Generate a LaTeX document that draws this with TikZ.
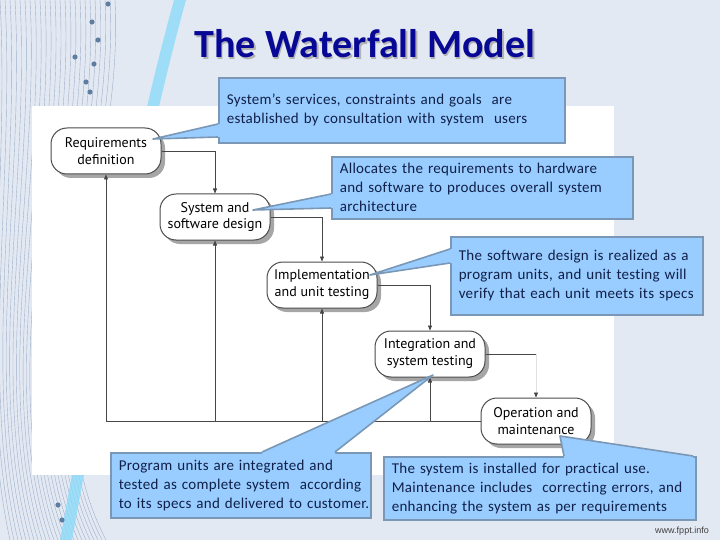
\documentclass[tikz,border=0pt]{standalone}
\usepackage{fontspec}
\setmainfont{Carlito}
\newfontfamily\phasefont{PT Sans}
\newfontfamily\notefont[LetterSpace=2,Ligatures=NoCommon]{Carlito}
\newfontfamily\webfont{Liberation Sans}
\usetikzlibrary{arrows.meta,shadows}

\definecolor{slidebg}{RGB}{227,233,243}
\definecolor{swirlclr}{RGB}{160,176,200}
\definecolor{dotclr}{RGB}{95,125,160}
\definecolor{noteblue}{RGB}{153,204,255}
\definecolor{noteedge}{RGB}{122,152,182}
\definecolor{notetext}{RGB}{16,32,72}
\definecolor{titleblue}{RGB}{8,8,150}
\definecolor{lineclr}{RGB}{70,70,70}

\tikzset{
  phase/.style={draw=black!70, line width=1pt, fill=white, rounded corners=16pt,
    align=center, font=\phasefont\fontsize{14}{17}\selectfont,
    minimum width=110pt, minimum height=46pt, inner sep=2pt,
    drop shadow={shadow xshift=4pt, shadow yshift=-4pt, fill=black!35, opacity=1}},
  note/.style={draw=noteedge, line width=1.6pt, fill=noteblue, text=notetext,
    align=left, font=\notefont\fontsize{15}{19}\selectfont,
    inner xsep=8pt, inner ysep=0pt, anchor=north west},
  wedge/.style={fill=noteblue},
  wedgeline/.style={draw=noteedge, line width=1.6pt, line join=round},
  link/.style={draw=lineclr, line width=0.7pt},
  flow/.style={link, -{Triangle[length=5pt,width=4pt]}},
}

\begin{document}
\begin{tikzpicture}[x=1pt,y=-1pt]
  \useasboundingbox (0,0) rectangle (720,540);
  \fill[slidebg] (0,0) rectangle (720,540);

  % swirl on the left
  \begin{scope}
    \clip (0,0) rectangle (720,540);
    \foreach \i in {0,...,24}
      \draw[swirlclr, line width=0.4pt] (\i*5-5,0) .. controls (\i*5+5,180) and (\i*2-25,380) .. (\i*4+10,540);
    \fill[cyan!45!white, opacity=0.8] (186,0) .. controls (150,130) and (112,320) .. (72,540)
      -- (60,540) .. controls (100,320) and (138,130) .. (174,0) -- cycle;
    \foreach \p in {(108,4),(92,22),(98,40),(75,57),(94,64),(86,82),(90,92),(62,520),(58,505)}
      \fill[dotclr] \p circle (2.6);
  \end{scope}

  % white panel
  \fill[white] (32,106) rectangle (614,475);

  % title
  \node[font=\bfseries\fontsize{40}{44}\selectfont, text=black!30] (titleshade) at (366.5,45.5) {The Waterfall Model};
  \node[font=\bfseries\fontsize{40}{44}\selectfont, text=titleblue] (title) at (365,44) {The Waterfall Model};

  % phases
  \node[phase] (req) at (106,151) {Requirements\\definition};
  \node[phase] (sys) at (215,217) {System and\\software design};
  \node[phase] (impl) at (322,285) {Implementation\\and unit testing};
  \node[phase] (integ) at (430,354) {Integration and\\system testing};
  \node[phase] (op) at (536,421) {Operation and\\maintenance};

  \draw[flow] (req.east) -| (sys.north);
  \draw[flow] (sys.east) -| (impl.north);
  \draw[flow] (impl.east) -| (integ.north);
  \draw[link] (integ.east) -- (integ.east -| op.north) coordinate (bend);
  \draw[draw=black!12, line width=0.7pt, -{Triangle[length=5pt,width=4pt,color=lineclr]}] (bend) -- (op.north);

  % going back
  \draw[flow] (op.west) -| (req.south);
  \foreach \n in {sys,impl,integ}
    \draw[flow] (op.west -| \n.south) -- (\n.south);

  % callouts
  \node[note, text width=330pt, minimum height=65pt] (n1) at (218,77)
    {\mbox{System’s services, constraints and goals\ \ are}\\
     \mbox{established by consultation with system\ \ users}};
  \node[note, text width=285pt, minimum height=62pt] (n2) at (331,156)
    {\mbox{Allocates the requirements to hardware}\\
     \mbox{and software to produces overall system}\\
     \mbox{architecture}};
  \node[note, text width=236pt, minimum height=78pt] (n3) at (450,236)
    {\mbox{The software design is realized as a}\\
     \mbox{program units, and unit testing will}\\
     \mbox{verify that each unit meets its specs}};
  \node[note, text width=244pt, minimum height=65pt] (n4) at (110,452)
    {\mbox{Program units are integrated and}\\
     \mbox{tested as complete system\ \ according}\\
     \mbox{to its specs and delivered to customer.}};
  \node[note, text width=296pt, minimum height=63pt] (n5) at (383,456)
    {\mbox{The system is installed for practical use.}\\
     \mbox{Maintenance includes\ \ correcting errors, and}\\
     \mbox{enhancing the system as per requirements}};

  \coordinate (tip1) at (153,139);
  \coordinate (tip2) at (253,210);
  \coordinate (tip3) at (370,275);
  \coordinate (tip4) at (433,375);
  \coordinate (tip5) at (560,436);

  \fill[wedge] (tip1) -- (218,124) -- (222,124) -- (222,137) -- (218,137) -- cycle;
  \draw[wedgeline] (218,124) -- (tip1) -- (218,137);
  \fill[wedge] (tip2) -- (331,194) -- (335,194) -- (335,208) -- (331,208) -- cycle;
  \draw[wedgeline] (331,194) -- (tip2) -- (331,208);
  \fill[wedge] (tip3) -- (450,249) -- (454,249) -- (454,263) -- (450,263) -- cycle;
  \draw[wedgeline] (450,249) -- (tip3) -- (450,263);
  \fill[wedge] (tip4) -- (262,452) -- (262,456) -- (335,456) -- (335,452) -- cycle;
  \draw[wedgeline] (262,452) -- (tip4) -- (335,452);
  \fill[wedge] (tip5) -- (564,456) -- (564,460) -- (693,460) -- (693,456) -- cycle;
  \draw[wedgeline] (564,456) -- (tip5) -- (693,456);

  \node[font=\webfont\fontsize{9}{10}\selectfont, text=black!75] (web) at (682,531) {www.fppt.info};
\end{tikzpicture}
\end{document}
